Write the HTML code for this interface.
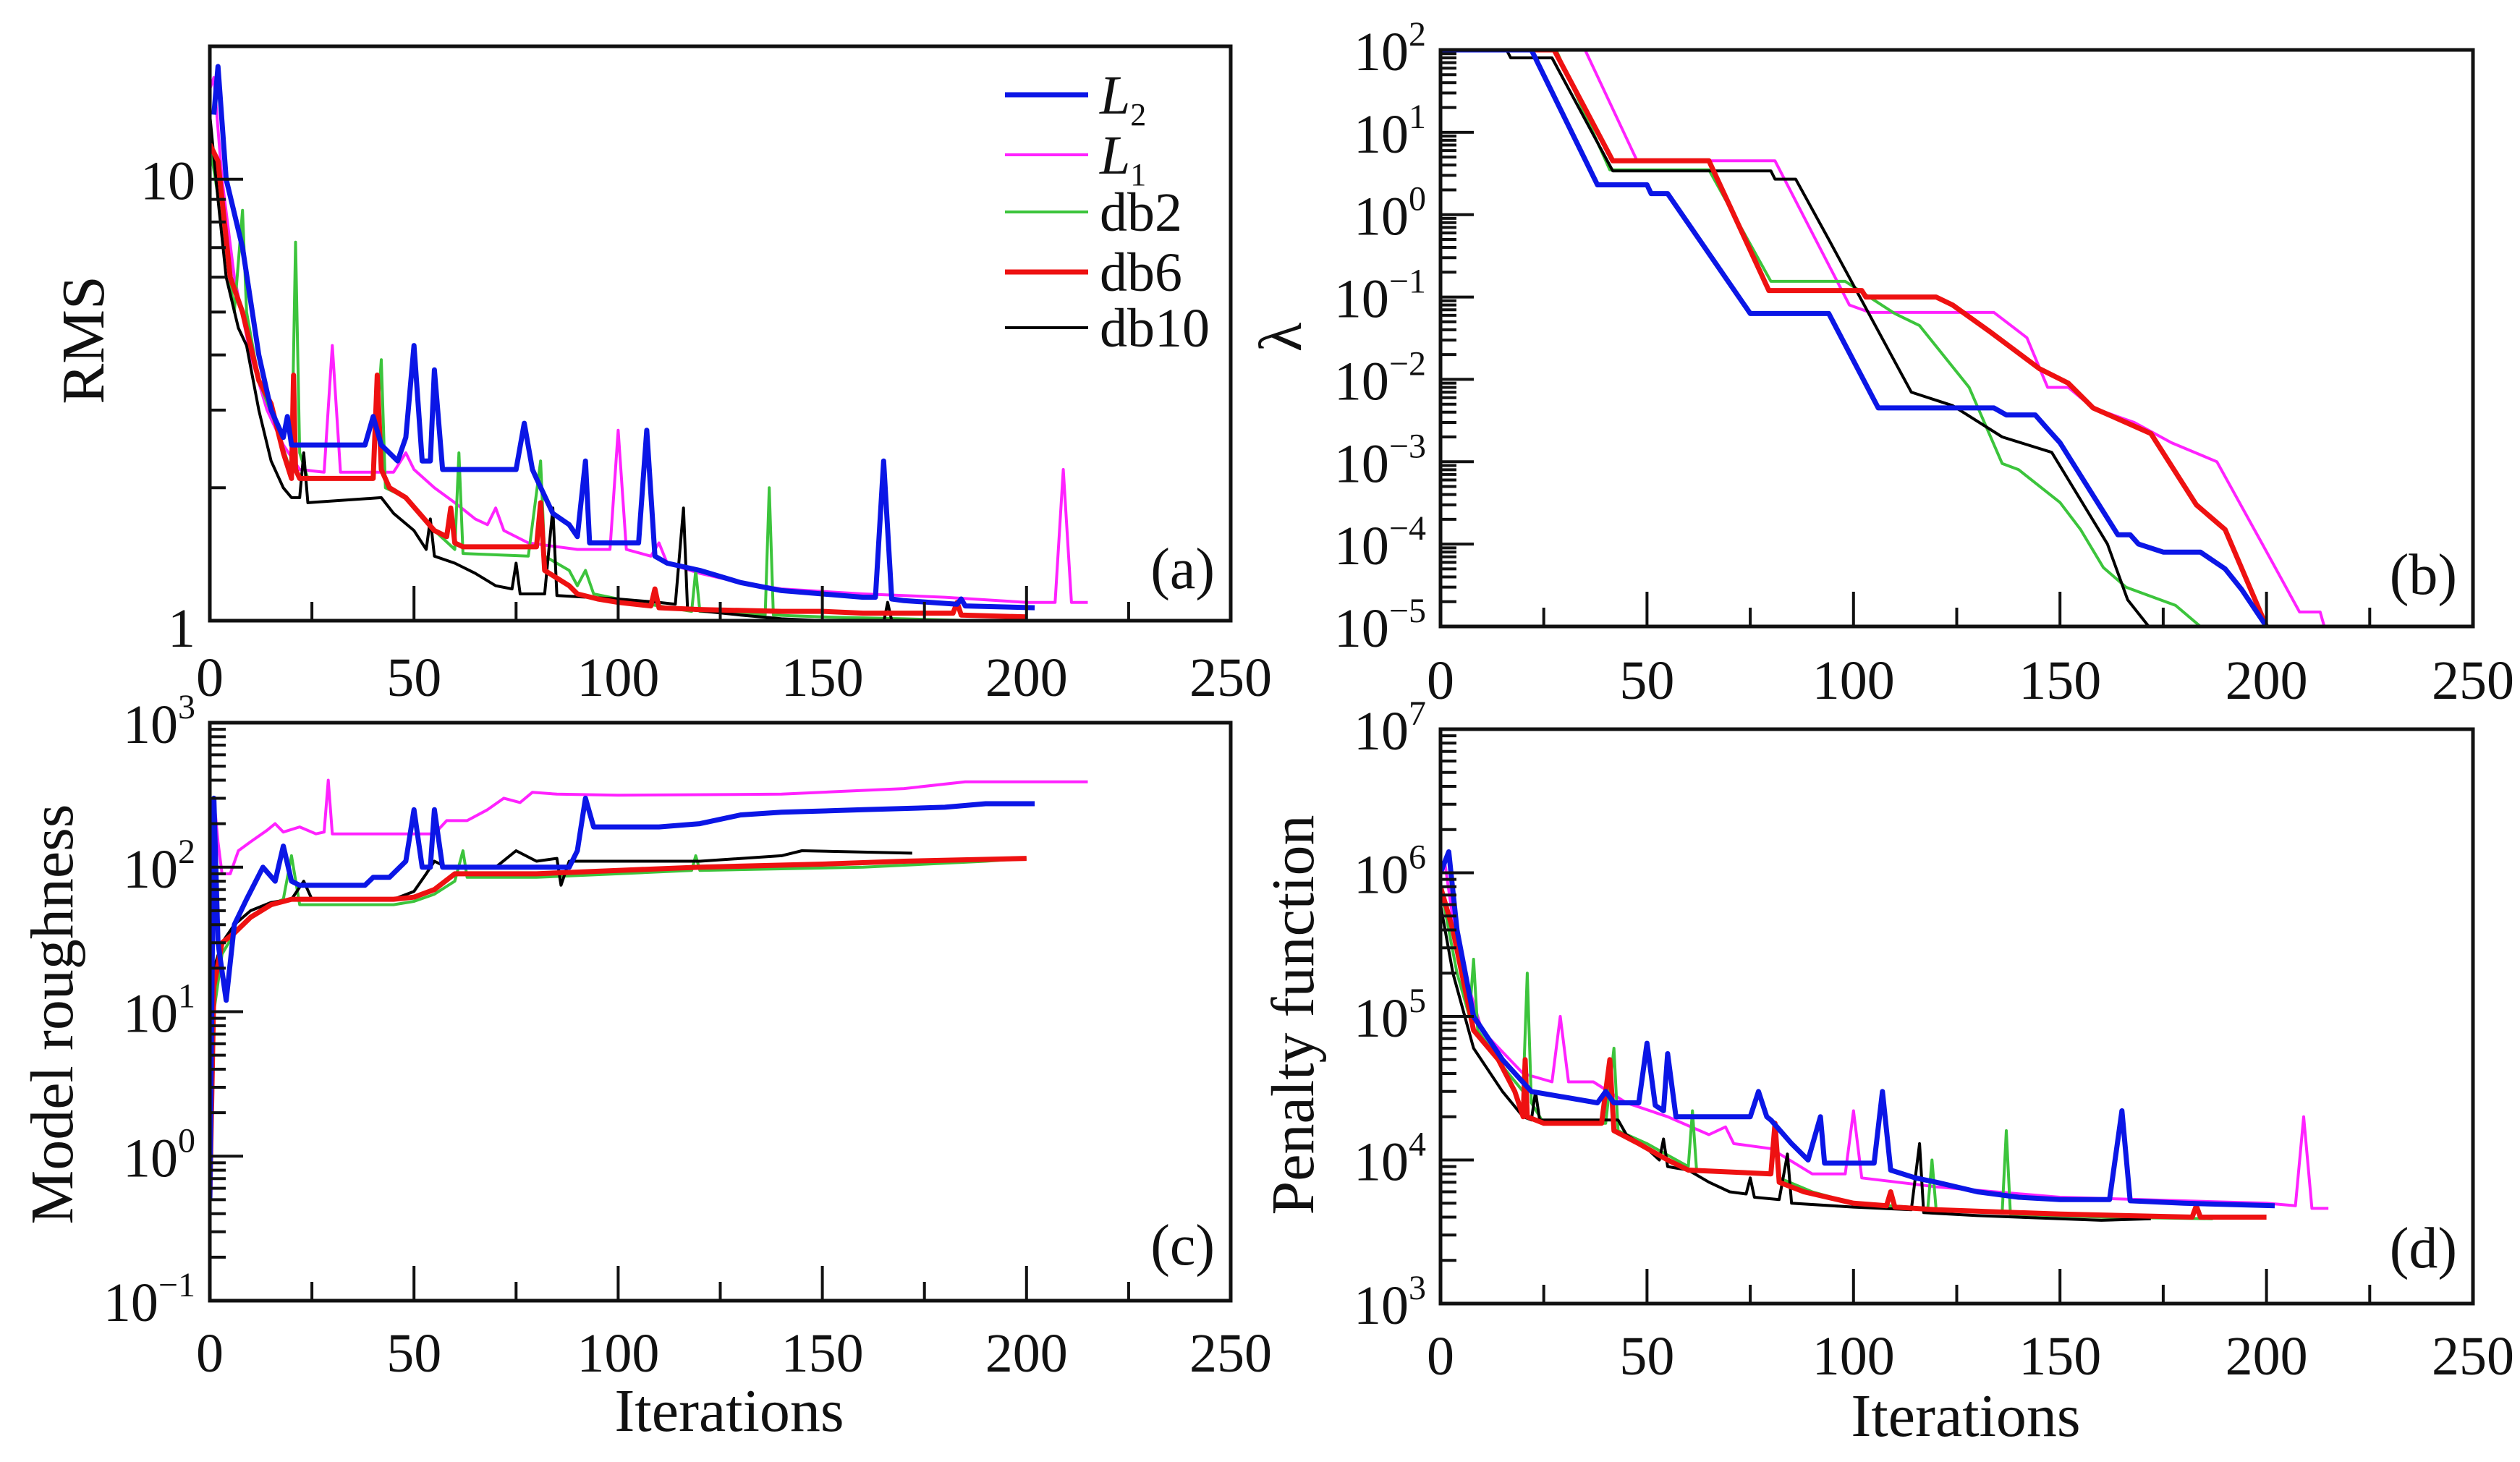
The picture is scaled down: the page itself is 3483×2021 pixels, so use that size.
<!DOCTYPE html>
<html><head><meta charset="utf-8"><style>
html,body{margin:0;padding:0;background:#fff}
svg{display:block}
text{font-family:"Liberation Serif",serif;fill:#111}
</style></head><body>
<svg id="fig" width="3483" height="2021" viewBox="0 0 3483 2021" xmlns="http://www.w3.org/2000/svg">
<rect width="3483" height="2021" fill="#fff"/>
<g id="layer"></g>
</svg>
<script>
// ---------- data ----------
const seriesNames = ["L2","L1","db2","db6","db10"];
const rmsL2 = [[1,14],[2,18],[4,10],[8,7],[12,4],[15,3],[18,2.6],[19,2.9],[20,2.5],[22,2.5],[38,2.5],[40,2.9],[42,2.5],[46,2.3],[48,2.6],[50,4.2],[52,2.3],[54,2.3],[55,3.7],[57,2.2],[75,2.2],[77,2.8],[79,2.2],[80,2.1],[84,1.75],[88,1.65],[90,1.55],[92,2.3],[93,1.5],[95,1.5],[105,1.5],[107,2.7],[109,1.4],[112,1.35],[120,1.3],[130,1.22],[140,1.17],[150,1.15],[160,1.13],[163,1.13],[165,2.3],[167,1.12],[170,1.11],[183,1.09],[184,1.12],[185,1.08],[202,1.07]];
const rmsL1 = [[0,16],[1,17],[3,10],[6,6],[10,4],[14,3],[18,2.5],[22,2.2],[28,2.17],[30,4.2],[32,2.17],[40,2.17],[45,2.17],[48,2.4],[50,2.2],[55,2.0],[60,1.85],[65,1.7],[68,1.65],[70,1.8],[72,1.6],[78,1.5],[90,1.45],[98,1.45],[100,2.7],[102,1.45],[108,1.4],[110,1.5],[112,1.35],[120,1.28],[130,1.22],[140,1.18],[160,1.15],[180,1.13],[200,1.1],[207,1.1],[209,2.2],[211,1.1],[215,1.1]];
const rmsDb2 = [[0,12],[3,8],[6,5],[8,8.5],[9,5],[12,3.5],[16,2.8],[19,2.3],[20,2.2],[21,7.2],[22,2.4],[24,2.1],[40,2.1],[42,3.9],[43,2.0],[48,1.9],[55,1.6],[60,1.45],[61,2.4],[62,1.42],[78,1.4],[81,2.3],[82,1.4],[88,1.3],[90,1.2],[92,1.3],[94,1.15],[100,1.12],[110,1.08],[118,1.05],[119,1.3],[120,1.05],[130,1.04],[136,1.03],[137,2.0],[138,1.03],[150,1.02],[170,1.01],[187,1.0]];
const rmsDb6 = [[0,12],[2,11],[5,6],[8,5],[12,3.5],[15,3.1],[18,2.4],[20,2.1],[20.5,3.6],[21,2.2],[22,2.1],[40,2.1],[41,3.6],[42,2.2],[44,2.0],[48,1.9],[55,1.6],[58,1.55],[59,1.8],[60,1.5],[62,1.47],[80,1.47],[81,1.85],[82,1.3],[88,1.2],[90,1.15],[95,1.12],[100,1.1],[108,1.08],[109,1.18],[110,1.07],[120,1.06],[140,1.05],[150,1.05],[160,1.04],[182,1.04],[183,1.1],[184,1.03],[200,1.02]];
const rmsDb10 = [[0,14],[2,9],[4,6],[7,4.6],[9,4.2],[12,3.0],[15,2.3],[18,2.0],[20,1.9],[22,1.9],[23,2.4],[24,1.85],[42,1.9],[45,1.75],[50,1.6],[53,1.45],[54,1.7],[55,1.4],[60,1.35],[65,1.28],[70,1.2],[74,1.18],[75,1.35],[76,1.15],[82,1.15],[84,1.8],[85,1.14],[100,1.12],[110,1.1],[114,1.09],[116,1.8],[117,1.06],[130,1.03],[140,1.01],[150,1.0],[165,0.99],[166,1.1],[167,1.0],[175,0.99]];

const lamL2 = [[0,100],[22,100],[38,2.3],[50,2.3],[51,1.8],[55,1.8],[75,0.063],[94,0.063],[106,0.0045],[134,0.0045],[137,0.0037],[144,0.0037],[147,0.0025],[150,0.0017],[164,0.00013],[167,0.00013],[169,0.0001],[175,0.00008],[184,0.00008],[190,0.00005],[194,0.000028],[200,0.00001]];
const lamL1 = [[0,100],[35,100],[47.6,4.5],[81,4.5],[99,0.08],[104,0.065],[134,0.065],[142,0.032],[147,0.008],[152,0.008],[158,0.0045],[168,0.003],[177,0.0017],[188,0.001],[199,0.0001],[208,0.000015],[213,0.000015],[214,0.00001]];
const lamDb2 = [[0,100],[28,100],[41,3.5],[65,3.5],[80,0.155],[98,0.155],[110,0.063],[116,0.045],[128,0.008],[136,0.00095],[140,0.0008],[150,0.00032],[155,0.00015],[160.5,0.000052],[166,0.00003],[178,0.000018],[184,0.00001]];
const lamDb6 = [[0,100],[27.5,100],[41.7,4.5],[65,4.5],[79.5,0.12],[102,0.12],[103,0.1],[120,0.1],[124,0.08],[133,0.038],[145,0.0135],[152,0.009],[158,0.0045],[166,0.003],[172,0.0022],[183,0.0003],[190,0.00015],[200,0.00001]];
const lamDb10 = [[0,100],[16,100],[17,80],[27,80],[41.7,3.4],[80,3.4],[81,2.7],[86,2.7],[94,0.5],[114,0.007],[124,0.0048],[136,0.002],[148,0.0013],[161.5,0.0001],[166.4,0.000021],[171.5,0.00001]];

const rghL2 = [[0,0.5],[1,300],[2,30],[4,12],[6,40],[9,60],[13,100],[16,80],[18,140],[20,80],[22,75],[38,75],[40,85],[44,85],[48,110],[50,250],[52,100],[54,100],[55,250],[57,100],[88,100],[90,130],[92,300],[94,190],[110,190],[120,200],[130,230],[140,240],[160,250],[180,260],[190,275],[202,275]];
const rghL1 = [[0,0.5],[1,300],[2,150],[3,90],[5,90],[7,130],[10,150],[14,180],[16,200],[18,175],[22,190],[26,170],[28,175],[29,400],[30,170],[55,170],[58,210],[63,210],[68,250],[72,300],[76,280],[79,330],[85,320],[100,315],[140,320],[155,335],[170,350],[185,390],[215,390]];
const rghDb2 = [[0,0.5],[1,10],[3,25],[6,35],[10,45],[15,55],[18,60],[20,120],[22,55],[45,55],[50,58],[55,65],[60,80],[62,130],[63,85],[80,85],[100,90],[118,95],[119,120],[120,95],[160,100],[190,110],[200,115]];
const rghDb6 = [[0,0.5],[1,15],[3,30],[6,35],[10,45],[15,55],[20,60],[45,60],[50,62],[55,70],[60,90],[80,90],[100,95],[120,100],[150,105],[170,110],[200,115]];
const rghDb10 = [[0,0.5],[1,20],[3,30],[6,40],[10,50],[15,57],[20,60],[23,80],[25,60],[45,60],[50,68],[53,90],[55,110],[58,100],[70,100],[75,130],[80,110],[85,115],[86,75],[88,110],[100,110],[120,110],[140,120],[145,130],[172,125]];

const penL2 = [[0,1e6],[2,1.4e6],[4,4e5],[8,1e5],[15,5e4],[22,3e4],[38,2.5e4],[40,3e4],[42,2.5e4],[48,2.5e4],[50,6.5e4],[52,2.4e4],[54,2.2e4],[55,5.5e4],[57,2e4],[75,2e4],[77,3e4],[79,2e4],[80,1.9e4],[85,1.3e4],[89,1e4],[92,2e4],[93,9.5e3],[105,9.5e3],[107,3e4],[109,8.5e3],[115,7.5e3],[120,7e3],[130,6e3],[140,5.5e3],[150,5.3e3],[162,5.3e3],[165,2.2e4],[167,5.2e3],[180,5e3],[202,4.8e3]];
const penL1 = [[0,1e6],[1,1.2e6],[4,3e5],[10,8e4],[20,4e4],[27,3.5e4],[29,1e5],[31,3.5e4],[37,3.5e4],[45,2.5e4],[55,2e4],[65,1.5e4],[69,1.7e4],[71,1.3e4],[80,1.2e4],[90,8e3],[98,8e3],[100,2.2e4],[102,7.5e3],[120,6.5e3],[150,5.5e3],[200,5e3],[207,4.8e3],[209,2e4],[211,4.6e3],[215,4.6e3]];
const penDb2 = [[0,8e5],[4,2e5],[7,1e5],[8,2.5e5],[9,8e4],[15,4.5e4],[20,3e4],[21,2e5],[22,2.5e4],[25,1.8e4],[40,1.8e4],[42,6e4],[43,1.6e4],[50,1.3e4],[60,9e3],[61,2.2e4],[62,8.5e3],[80,8e3],[81,1.8e4],[82,7.5e3],[90,6e3],[100,5e3],[118,4.6e3],[119,1e4],[120,4.5e3],[136,4.3e3],[137,1.6e4],[138,4.2e3],[160,4e3],[187,3.9e3]];
const penDb6 = [[0,8e5],[3,4e5],[8,8e4],[14,5e4],[18,3e4],[20,2e4],[20.5,5e4],[21,2e4],[25,1.8e4],[39,1.8e4],[41,5e4],[42,1.6e4],[48,1.3e4],[55,1e4],[60,8.5e3],[80,8e3],[81,1.8e4],[82,7e3],[88,6e3],[100,5e3],[108,4.8e3],[109,6e3],[110,4.7e3],[120,4.5e3],[150,4.2e3],[182,4e3],[183,4.8e3],[184,4e3],[200,4e3]];
const penDb10 = [[0,6e5],[3,2e5],[8,6e4],[15,3e4],[20,2e4],[22,1.9e4],[23,3e4],[24,1.9e4],[43,1.9e4],[45,1.5e4],[50,1.2e4],[53,1e4],[54,1.4e4],[55,9e3],[60,8.5e3],[65,7e3],[70,6e3],[74,5.8e3],[75,7.5e3],[76,5.5e3],[82,5.3e3],[84,1.1e4],[85,5e3],[100,4.7e3],[114,4.5e3],[116,1.3e4],[117,4.3e3],[130,4.1e3],[160,3.8e3],[172,3.9e3]];

const xTickLabels = ["0","50","100","150","200","250"];
const xTickValues = [0,50,100,150,200,250];

// ---------- rendering ----------
const NS = "http://www.w3.org/2000/svg";
const layer = document.getElementById("layer");
function mk(tag, attrs, parent){
  const e = document.createElementNS(NS, tag);
  for (const k in attrs) e.setAttribute(k, attrs[k]);
  (parent||layer).appendChild(e);
  return e;
}
const colors = {L2:"#0b16e6", L1:"#ff22ff", db2:"#3cc43c", db6:"#ee1111", db10:"#000"};
const widths = {L2:7, L1:4, db2:4, db6:7, db10:4};

const panels = [
  {id:"a", L:290, R:1701, T:64, B:858, lmin:0, lmax:Math.log10(20), data:[rmsL2,rmsL1,rmsDb2,rmsDb6,rmsDb10], xlabBase:962},
  {id:"b", L:1991, R:3418, T:69, B:866, lmin:-5, lmax:2, data:[lamL2,lamL1,lamDb2,lamDb6,lamDb10], xlabBase:966},
  {id:"c", L:290, R:1701, T:999, B:1798, lmin:-1, lmax:3, data:[rghL2,rghL1,rghDb2,rghDb6,rghDb10], xlabBase:1896},
  {id:"d", L:1991, R:3418, T:1008, B:1802, lmin:3, lmax:7, data:[penL2,penL1,penDb2,penDb6,penDb10], xlabBase:1900}
];

panels.forEach(p=>{
  const g = mk("g",{});
  
  
  const px = x => p.L + x*(p.R-p.L)/250;
  const py = v => p.B - (Math.log10(v)-p.lmin)*(p.B-p.T)/(p.lmax-p.lmin);
  const cp = mk("clipPath",{id:"clip-"+p.id}, g);
  mk("rect",{x:p.L,y:p.T,width:p.R-p.L,height:p.B-p.T}, cp);
  // series
  const sg = mk("g",{"clip-path":"url(#clip-"+p.id+")"}, g);
  const order = [1,2,4,3,0]; // draw thin first
  order.forEach(i=>{
    const name = seriesNames[i];
    const pts = p.data[i].map(d=>px(d[0]).toFixed(1)+","+py(d[1]).toFixed(1)).join(" ");
    const pl = mk("polyline",{points:pts,fill:"none",stroke:colors[name],"stroke-width":widths[name],"stroke-linejoin":"round"}, sg);
    
    
  });
  // x ticks
  for (let v=0; v<=250; v+=25){
    const major = v%50===0;
    mk("line",{x1:px(v),x2:px(v),y1:p.B,y2:p.B-(major?48:26),stroke:"#111","stroke-width":4}, g);
  }
  xTickValues.forEach((v,i)=>{
    const t = mk("text",{x:px(v),y:p.xlabBase,"text-anchor":"middle","font-size":76}, g);
    t.textContent = xTickLabels[i];
    
    
  });
  // y ticks (log)
  for (let e=Math.floor(p.lmin); e<=Math.ceil(p.lmax); e++){
    for (let m=1; m<=9; m++){
      const lv = e + Math.log10(m);
      if (lv < p.lmin-1e-9 || lv > p.lmax+1e-9) continue;
      const y = py(Math.pow(10,lv));
      mk("line",{x1:p.L,x2:p.L+(m===1?46:22),y1:y,y2:y,stroke:"#111","stroke-width":4}, g);
    }
    if (e < p.lmin || e > p.lmax) continue;
    const y = py(Math.pow(10,e));
    let t;
    if (p.id==="a"){
      t = mk("text",{x:p.L-20,y:y+(e===0?36:28),"text-anchor":"end","font-size":76}, g);
      t.textContent = e===0 ? "1" : "10";
    } else {
      t = mk("text",{x:p.L-20,y:y+28,"text-anchor":"end","font-size":76}, g);
      const base = mk("tspan",{}, t); base.textContent = "10";
      const sup = mk("tspan",{"font-size":48,dy:-34}, t);
      sup.textContent = e<0 ? "\u2212"+(-e) : String(e);
    }
    
    
  }
  // frame
  const fr = mk("rect",{x:p.L,y:p.T,width:p.R-p.L,height:p.B-p.T,fill:"none",stroke:"#111","stroke-width":5}, g);
  
  
  const lt = mk("text",{x:p.R-22,y:(p.id==="a"||p.id==="b")?p.B-45:p.B-50,"text-anchor":"end","font-size":80}, g);
  lt.textContent = "("+p.id+")";
  
  
});
</script>
<g></g>
<script>
// axis titles & legend (static layout)
const svgEl = document.getElementById("fig");
function t2(attrs, txt, name){
  const e = document.createElementNS("http://www.w3.org/2000/svg","text");
  for (const k in attrs) e.setAttribute(k, attrs[k]);
  e.textContent = txt;
  
  
  svgEl.appendChild(e);
  return e;
}
t2({x:0,y:0,"font-size":84,"text-anchor":"middle",transform:"translate(143,470) rotate(-90)"},"RMS","y-axis-title-rms");
t2({x:0,y:0,"font-size":84,"text-anchor":"middle",transform:"translate(1798,466) rotate(-90)"},"λ","y-axis-title-lambda");
t2({x:0,y:0,"font-size":84,"text-anchor":"middle",transform:"translate(100,1402) rotate(-90)"},"Model roughness","y-axis-title-roughness");
t2({x:0,y:0,"font-size":84,"text-anchor":"middle",transform:"translate(1815,1403) rotate(-90)"},"Penalty function","y-axis-title-penalty");
t2({x:1008,y:1978,"font-size":84,"text-anchor":"middle"},"Iterations","x-axis-title-c");
t2({x:2717,y:1985,"font-size":84,"text-anchor":"middle"},"Iterations","x-axis-title-d");

// legend
const legendLabels = ["L","L","db2","db6","db10"];
const legendSubs = ["2","1","","",""];
const legendColors = ["#0b16e6","#ff22ff","#3cc43c","#ee1111","#000"];
const legendWidths = [7,4,4,7,4];
const legendYs = [131,214,293,376,453];
const lg = document.createElementNS("http://www.w3.org/2000/svg","g");


svgEl.appendChild(lg);
legendLabels.forEach((lab,i)=>{
  const y = legendYs[i];
  const ln = document.createElementNS("http://www.w3.org/2000/svg","line");
  ln.setAttribute("x1",1389); ln.setAttribute("x2",1504);
  ln.setAttribute("y1",y); ln.setAttribute("y2",y);
  ln.setAttribute("stroke",legendColors[i]); ln.setAttribute("stroke-width",legendWidths[i]);
  
  
  lg.appendChild(ln);
  const tx = document.createElementNS("http://www.w3.org/2000/svg","text");
  tx.setAttribute("x",1520); tx.setAttribute("y",y+26); tx.setAttribute("font-size",76);
  if (legendSubs[i]){
    tx.setAttribute("font-style","italic");
    const a = document.createElementNS("http://www.w3.org/2000/svg","tspan"); a.textContent = lab; tx.appendChild(a);
    const b = document.createElementNS("http://www.w3.org/2000/svg","tspan");
    b.setAttribute("font-size",44); b.setAttribute("dy",16); b.setAttribute("font-style","normal");
    b.textContent = legendSubs[i]; tx.appendChild(b);
  } else tx.textContent = lab;
  
  
  lg.appendChild(tx);
});
</script>
</body></html>
